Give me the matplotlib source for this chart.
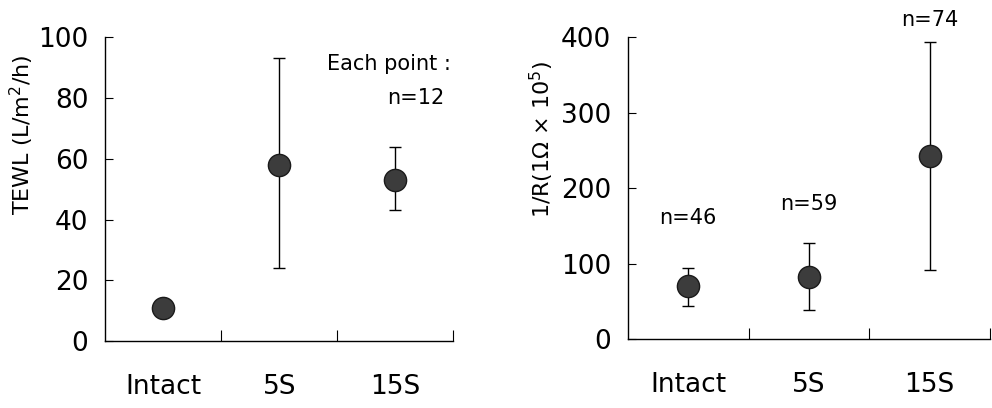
import numpy as np
import matplotlib
matplotlib.use("Agg")
import matplotlib.pyplot as plt

plt.rcParams['font.family'] = ['DejaVu Sans']

# data
groups = ["Intact", "5S", "15S"]

tewl_mean = [11, 58, 53]
tewl_low = [11, 24, 43]
tewl_high = [11, 93, 64]

invr_mean = [70, 82, 242]
invr_low = [44, 38, 91]
invr_high = [94, 127, 393]
invr_n = ["n=46", "n=59", "n=74"]

fig = plt.figure(figsize=(9.92, 4.08), dpi=100)
ax1 = fig.add_axes([0.106, 0.164, 0.351, 0.745])
ax2 = fig.add_axes([0.633, 0.169, 0.365, 0.740])

xpos = np.arange(len(groups)) + 0.5


def style_axis(ax, ymax, ystep):
    ax.set_xlim(0, 3)
    ax.set_ylim(0, ymax)
    ax.spines["top"].set_visible(False)
    ax.spines["right"].set_visible(False)
    for s in ["left", "bottom"]:
        ax.spines[s].set_linewidth(1.0)
    ax.set_yticks(np.arange(0, ymax + 1, ystep))
    ax.tick_params(axis="y", direction="in", length=6, width=0.8,
                   labelsize=19, pad=12)
    ax.set_xticks([1, 2, 3])
    ax.set_xticklabels([])
    ax.tick_params(axis="x", which="major", direction="in", length=8, width=0.8)
    ax.set_xticks(xpos, minor=True)
    ax.set_xticklabels(groups, minor=True)
    ax.tick_params(axis="x", which="minor", length=0, labelsize=19, pad=24)


def draw_points(ax, mean, low, high):
    mean = np.array(mean)
    err = [mean - np.array(low), np.array(high) - mean]
    ax.errorbar(xpos, mean, yerr=err, fmt="o", color="black",
                ecolor="black", elinewidth=1.0, capsize=4, capthick=1.0,
                markersize=16, markerfacecolor="#3c3c3c",
                markeredgecolor="#1a1a1a", markeredgewidth=1.0)


style_axis(ax1, 100, 20)
draw_points(ax1, tewl_mean, tewl_low, tewl_high)
ax1.set_ylabel("TEWL (L/m$^2$/h)", fontsize=16)
ax1.yaxis.set_label_coords(-0.20, 0.68)
ax1.text(2.98, 91, "Each point :", ha="right", va="center", fontsize=15)
ax1.text(2.92, 80, "n=12", ha="right", va="center", fontsize=15)

style_axis(ax2, 400, 100)
draw_points(ax2, invr_mean, invr_low, invr_high)
ax2.set_ylabel("1/R(1Ω × 10$^5$)", fontsize=16)
ax2.yaxis.set_label_coords(-0.20, 0.66)
ax2.text(xpos[0], 160, invr_n[0], ha="center", va="center", fontsize=15)
ax2.text(xpos[1], 179, invr_n[1], ha="center", va="center", fontsize=15)
ax2.text(xpos[2], 423, invr_n[2], ha="center", va="center", fontsize=15,
         clip_on=False)

fig.savefig("out.png", dpi=100)
